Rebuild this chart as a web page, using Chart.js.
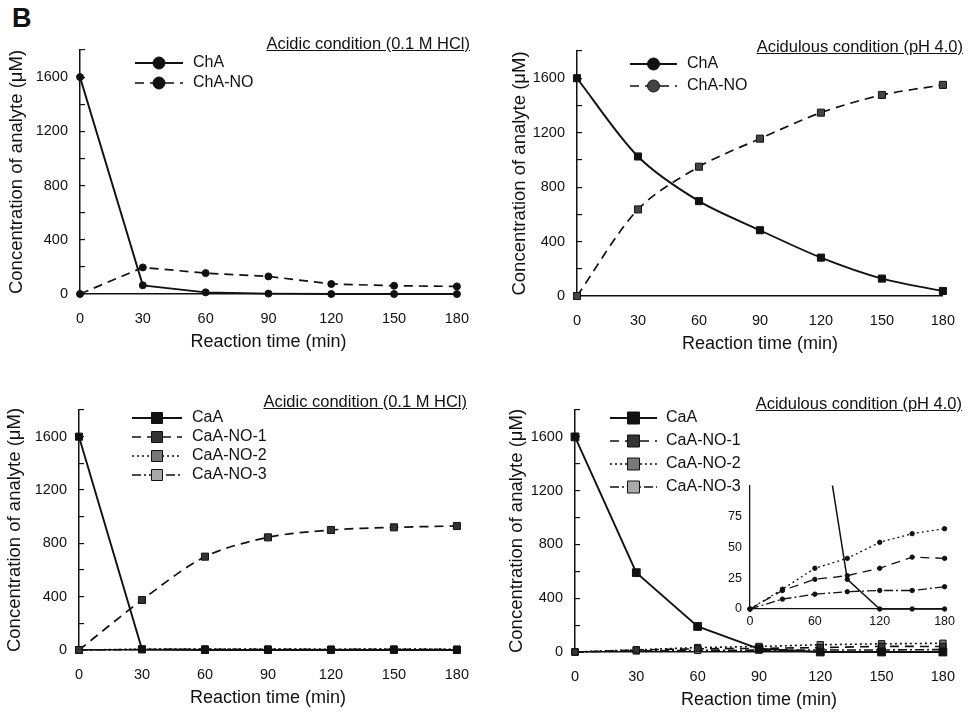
<!DOCTYPE html>
<html>
<head>
<meta charset="utf-8">
<script src="https://cdn.jsdelivr.net/npm/chart.js@4.4.1/dist/chart.umd.min.js"></script>
<style>
  body { margin: 0; background: #fff; }
  #wrap { position: relative; width: 971px; height: 712px; overflow: hidden; font-family: "Liberation Sans", Arial, sans-serif; color: #111; }
  canvas { position: absolute; }
  .cond { position: absolute; font-size: 16.5px; text-decoration: underline; white-space: nowrap; text-align: right; }
  #tag { position: absolute; left: 12px; top: 3px; font-size: 27px; font-weight: bold; }
</style>
</head>
<body>
<div id="wrap">
  <div id="tag">B</div>
  <canvas id="c1" width="485" height="356" style="left:0;top:0"></canvas>
  <canvas id="c2" width="481" height="358" style="left:490px;top:0"></canvas>
  <canvas id="c3" width="485" height="362" style="left:0;top:350px"></canvas>
  <canvas id="c4" width="481" height="362" style="left:490px;top:350px"></canvas>
  <canvas id="c5" width="260" height="170" style="left:700px;top:470px"></canvas>
  <div class="cond" style="right:501px;top:34px">Acidic condition (0.1 M HCl)</div>
  <div class="cond" style="right:8px;top:37px">Acidulous condition (pH 4.0)</div>
  <div class="cond" style="right:504px;top:392px">Acidic condition (0.1 M HCl)</div>
  <div class="cond" style="right:9px;top:394px">Acidulous condition (pH 4.0)</div>
</div>
<script>
// reaction times (min)
const times = [0, 30, 60, 90, 120, 150, 180];

// chlorogenic acid, 0.1 M HCl
const acidChA = [1600, 64, 12, 3, 0, 0, 0];
const acidChANO = [0, 196, 154, 130, 74, 61, 56];

// chlorogenic acid, pH 4.0
const ph4ChA = [1600, 1025, 697, 483, 282, 128, 37];
const ph4ChANO = [0, 636, 950, 1156, 1347, 1477, 1551];

// caffeic acid, 0.1 M HCl
const acidCaA = [1600, 5, 0, 0, 0, 0, 0];
const acidCaANO1 = [0, 375, 700, 845, 900, 920, 930];
const acidCaANO2 = [0, 6, 8, 7, 6, 7, 6];
const acidCaANO3 = [0, 4, 5, 5, 4, 5, 4];

// caffeic acid, pH 4.0
const ph4CaA = [1600, 590, 190, 24, 0, 0, 0];
const ph4CaANO1 = [0, 15, 24, 27, 33, 42, 41];
const ph4CaANO2 = [0, 16, 33, 41, 54, 61, 65];
const ph4CaANO3 = [0, 8, 12, 14, 15, 15, 18];

const yTickLabels = [0, 400, 800, 1200, 1600];
const insetYLabels = [0, 25, 50, 75];

const FONT = '"Liberation Sans", Arial, sans-serif';
const INK = '#111';
Chart.defaults.font.family = FONT;
Chart.defaults.color = INK;

const dashes = { solid: [], dash: [9, 6], dot: [2, 3], dashdot: [9, 3, 2, 3] };

function pts(vals) {
  return times.map((t, i) => ({ x: t, y: vals[i] }));
}

function series(label, vals, o) {
  return {
    label,
    data: pts(vals),
    borderColor: INK,
    borderWidth: o.width ?? 1.6,
    borderDash: dashes[o.dash || 'solid'],
    pointStyle: o.style || 'circle',
    pointRadius: o.r ?? 3.5,
    pointBackgroundColor: o.fill || INK,
    pointBorderColor: INK,
    pointBorderWidth: 1,
    tension: o.tension ?? 0,
    clip: o.clip ?? false,
    legendStyle: o.legendStyle || o.style || 'circle',
    legendFill: o.fill || INK
  };
}

// legend drawn as line sample + marker + label
const lineLegend = {
  id: 'lineLegend',
  afterDraw(chart, args, opts) {
    if (opts.x == null) return;
    const ctx = chart.ctx;
    chart.data.datasets.forEach((ds, i) => {
      const y = opts.y + i * opts.rowH;
      const mx = opts.x + opts.len / 2;
      ctx.save();
      ctx.strokeStyle = INK;
      ctx.lineWidth = ds.borderWidth;
      ctx.setLineDash(ds.borderDash);
      ctx.beginPath();
      ctx.moveTo(opts.x, y);
      ctx.lineTo(opts.x + opts.len, y);
      ctx.stroke();
      ctx.setLineDash([]);
      ctx.fillStyle = ds.legendFill;
      ctx.lineWidth = 1;
      const r = opts.markR;
      ctx.beginPath();
      if (ds.legendStyle === 'circle') ctx.arc(mx, y, r, 0, Math.PI * 2);
      else ctx.rect(mx - r, y - r, 2 * r, 2 * r);
      ctx.fill();
      ctx.stroke();
      ctx.fillStyle = INK;
      ctx.font = '16px ' + FONT;
      ctx.textBaseline = 'middle';
      ctx.fillText(ds.label, opts.x + opts.len + opts.gap, y);
      ctx.restore();
    });
  }
};

function panel(id, box, datasets, legend) {
  const canvas = document.getElementById(id);
  const W = canvas.width, H = canvas.height;
  return new Chart(canvas, {
    type: 'line',
    data: { datasets },
    plugins: [lineLegend],
    options: {
      responsive: false,
      animation: false,
      devicePixelRatio: 1,
      layout: { padding: { top: box.top, right: W - box.right, left: 0, bottom: 0 } },
      plugins: { legend: { display: false }, tooltip: { enabled: false }, lineLegend: legend },
      scales: {
        x: {
          type: 'linear', min: 0, max: 180,
          afterFit: s => { s.height = H - box.bottom; },
          border: { color: INK, width: 1.5 },
          grid: { drawOnChartArea: false, drawTicks: false },
          ticks: { stepSize: 30, padding: 16, font: { size: 14.5 }, maxRotation: 0, autoSkip: false },
          title: { display: true, text: 'Reaction time (min)', font: { size: 18 }, padding: { top: 0, bottom: box.xtPad } }
        },
        y: {
          min: 0, max: 1800,
          afterFit: s => { s.width = box.left; },
          border: { color: INK, width: 1.5 },
          grid: { drawOnChartArea: false, tickLength: -5, color: INK, lineWidth: 1.2 },
          ticks: {
            stepSize: 200, padding: 17, font: { size: 14.5 },
            callback: v => (yTickLabels.includes(v) ? v : '')
          },
          title: { display: true, text: 'Concentration of analyte (μM)', font: { size: 18.5 }, padding: { top: box.ytPad, bottom: 0 } }
        }
      }
    }
  });
}

panel('c1', { left: 80, right: 458, top: 50, bottom: 294, xtPad: 3, ytPad: 6 }, [
  series('ChA', acidChA, { width: 1.9 }),
  series('ChA-NO', acidChANO, { dash: 'dash', width: 1.7 })
], { x: 135, y: 63, len: 48, rowH: 20, gap: 10, markR: 6 });

panel('c2', { left: 87, right: 463, top: 51, bottom: 296, xtPad: 3, ytPad: 19 }, [
  series('ChA', ph4ChA, { width: 1.9, style: 'rect', r: 5, legendStyle: 'circle', tension: 0.3 }),
  series('ChA-NO', ph4ChANO, { dash: 'dash', width: 1.7, style: 'rect', r: 5, legendStyle: 'circle', fill: '#444', tension: 0.3 })
], { x: 140, y: 64, len: 47, rowH: 22, gap: 10, markR: 6 });

panel('c3', { left: 79, right: 457, top: 60, bottom: 300, xtPad: 3, ytPad: 4 }, [
  series('CaA', acidCaA, { width: 1.9, style: 'rect', r: 5 }),
  series('CaA-NO-1', acidCaANO1, { dash: 'dash', width: 1.7, style: 'rect', r: 5, fill: '#333', tension: 0.3 }),
  series('CaA-NO-2', acidCaANO2, { dash: 'dot', style: 'rect', r: 4.5, fill: '#777' }),
  series('CaA-NO-3', acidCaANO3, { dash: 'dashdot', style: 'rect', r: 4.5, fill: '#aaa' })
], { x: 132, y: 68, len: 50, rowH: 19, gap: 10, markR: 5.5 });

panel('c4', { left: 85, right: 461, top: 60, bottom: 302, xtPad: 1, ytPad: 16 }, [
  series('CaA', ph4CaA, { width: 1.9, style: 'rect', r: 5.5 }),
  series('CaA-NO-1', ph4CaANO1, { dash: 'dash', style: 'rect', r: 4.5, fill: '#333' }),
  series('CaA-NO-2', ph4CaANO2, { dash: 'dot', style: 'rect', r: 4.5, fill: '#777' }),
  series('CaA-NO-3', ph4CaANO3, { dash: 'dashdot', style: 'rect', r: 4.5, fill: '#aaa' })
], { x: 120, y: 68, len: 47, rowH: 23, gap: 9, markR: 6 });

// inset: zoom on the low-concentration range at pH 4.0
const insetClip = { left: 8, right: 8, top: 0, bottom: 8 };
new Chart(document.getElementById('c5'), {
  type: 'line',
  data: {
    datasets: [
      series('CaA', ph4CaA, { width: 1.5, r: 2.2, clip: insetClip }),
      series('CaA-NO-1', ph4CaANO1, { dash: 'dash', width: 1.3, r: 2.2, clip: insetClip }),
      series('CaA-NO-2', ph4CaANO2, { dash: 'dot', width: 1.3, r: 2.2, clip: insetClip }),
      series('CaA-NO-3', ph4CaANO3, { dash: 'dashdot', width: 1.3, r: 2.2, clip: insetClip })
    ]
  },
  options: {
    responsive: false,
    animation: false,
    devicePixelRatio: 1,
    layout: { padding: { top: 12, right: 10, left: 0, bottom: 0 } },
    plugins: { legend: { display: false }, tooltip: { enabled: false } },
    scales: {
      x: {
        type: 'linear', min: 0, max: 180,
        afterFit: s => { s.height = 31; },
        border: { color: INK, width: 1.3 },
        grid: { drawOnChartArea: false, drawTicks: false },
        ticks: { stepSize: 60, padding: 5, font: { size: 12.5 }, maxRotation: 0, autoSkip: false }
      },
      y: {
        min: 0, max: 100,
        afterFit: s => { s.width = 50; },
        border: { color: INK, width: 1.3 },
        grid: { drawOnChartArea: false, drawTicks: false },
        ticks: { stepSize: 25, padding: 8, font: { size: 12.5 }, callback: v => (insetYLabels.includes(v) ? v : '') }
      }
    }
  }
});
</script>
</body>
</html>
